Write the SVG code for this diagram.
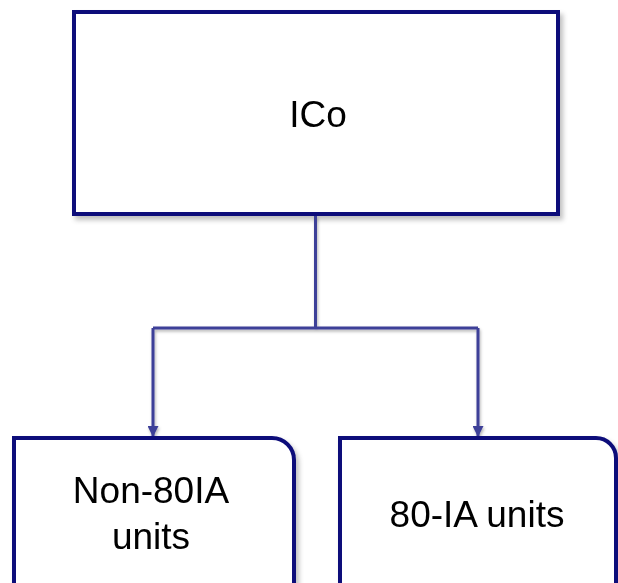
<svg xmlns="http://www.w3.org/2000/svg" width="618" height="583" viewBox="0 0 618 583">
  <defs>
    <filter id="sh" x="-10%" y="-10%" width="130%" height="130%">
      <feGaussianBlur in="SourceAlpha" stdDeviation="2.5"/>
      <feOffset dx="3" dy="4" result="b"/>
      <feFlood flood-color="#000" flood-opacity="0.25"/>
      <feComposite in2="b" operator="in"/>
      <feMerge><feMergeNode/><feMergeNode in="SourceGraphic"/></feMerge>
    </filter>
    <filter id="lsh" x="-20%" y="-20%" width="140%" height="140%">
      <feGaussianBlur in="SourceAlpha" stdDeviation="1.5"/>
      <feOffset dx="1" dy="2" result="b"/>
      <feFlood flood-color="#000" flood-opacity="0.3"/>
      <feComposite in2="b" operator="in"/>
      <feMerge><feMergeNode/><feMergeNode in="SourceGraphic"/></feMerge>
    </filter>
    <marker id="arr" viewBox="0 0 10 10" refX="10" refY="5" markerWidth="11" markerHeight="11" markerUnits="userSpaceOnUse" orient="auto">
      <path d="M0,0 L10,5 L0,10 z" fill="#3c3f98"/>
    </marker>
  </defs>
  <style>
    .box { fill: #ffffff; stroke: #0c0c7a; stroke-width: 4; }
    .lbl { font-family: "Liberation Sans", Arial, sans-serif; font-size: 37px; fill: #000; text-anchor: middle; }
    .conn { fill: none; stroke: #3c3f98; stroke-width: 3; }
  </style>
  <rect width="618" height="583" fill="#ffffff"/>
  <g id="ico" filter="url(#sh)">
    <rect class="box" x="74" y="12" width="484" height="202"/>
    <text class="lbl" x="318" y="127">ICo</text>
  </g>
  <g id="connectors" filter="url(#lsh)">
    <path class="conn" d="M315.5,216 V328 M153,328 H478"/>
    <path class="conn" d="M153,328 V437" marker-end="url(#arr)"/>
    <path class="conn" d="M478,328 V437" marker-end="url(#arr)"/>
  </g>
  <g id="non80ia" filter="url(#sh)">
    <path class="box" d="M14,600 V438 H272 A22,22 0 0 1 294,460 V600 Z"/>
    <text class="lbl" x="151" y="503">Non-80IA</text>
    <text class="lbl" x="151" y="549">units</text>
  </g>
  <g id="ia80" filter="url(#sh)">
    <path class="box" d="M340,600 V438 H596 A20,20 0 0 1 616,458 V600 Z"/>
    <text class="lbl" x="477" y="527">80-IA units</text>
  </g>
</svg>
